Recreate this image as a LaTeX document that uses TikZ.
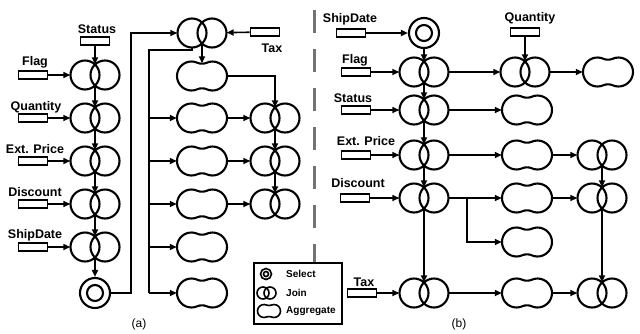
\documentclass[tikz,border=0pt]{standalone}
\usepackage{fontspec}
\setmainfont{Liberation Sans}
\usetikzlibrary{arrows.meta,calc}
\tikzset{
 shp/.style={line width=2.1pt},
 jbox/.style={rectangle, inner sep=0pt, minimum width=49pt, minimum height=21pt},
 abox/.style={rectangle, inner sep=0pt, minimum width=50pt, minimum height=25pt},
 inrect/.style={draw, line width=1.7pt, rectangle, inner sep=0pt, minimum width=29pt, minimum height=8.5pt},
 selnode/.style={draw, circle, line width=2.1pt, inner sep=0pt, minimum size=30pt},
 arr/.style={line width=1.6pt, -{Triangle[length=7pt,width=6pt]}},
 ln/.style={line width=1.6pt},
 lbl/.style={font=\fontsize{12.5}{14}\selectfont\bfseries, inner sep=0pt, anchor=base},
 leg/.style={font=\fontsize{10}{12}\selectfont\bfseries, inner sep=0pt, anchor=west},
 captxt/.style={font=\fontsize{12}{14}\selectfont, inner sep=0pt},
 sepline/.style={line width=3pt, draw=black!55, dash pattern=on 23pt off 16pt},
}
\newcommand\AggShape[5]{%
  \begin{scope}[shift={(#1,#2)},y=1pt]
  \pgfmathsetmacro\aggax{#3+#4*cos(115)}%
  \pgfmathsetmacro\aggay{#4*sin(115)}%
  \pgfmathsetmacro\aggcx{\aggax-0.906*0.18*#4}%
  \pgfmathsetmacro\aggcy{\aggay-0.423*0.18*#4}%
  \draw[line width=#5] (\aggax,-\aggay) arc[start angle=-115,end angle=115,radius=#4]
   .. controls (\aggcx,\aggcy) and (-\aggcx,\aggcy) .. (-\aggax,\aggay)
   arc[start angle=65,end angle=295,radius=#4]
   .. controls (-\aggcx,-\aggcy) and (\aggcx,-\aggcy) .. cycle;
  \end{scope}}
\newcommand\JoinAt[3]{%
  \node[jbox] (#1) at (#2,#3) {};
  \draw[shp] (#2-10,#3) circle[radius=14.5] (#2+10,#3) circle[radius=14.5];}
\newcommand\AggAt[3]{%
  \node[abox] (#1) at (#2,#3) {};
  \AggShape{#2}{#3}{10.5}{14.5}{2.1pt}}
\begin{document}
\begin{tikzpicture}[x=1pt,y=-1pt]
\useasboundingbox (0,0) rectangle (640,333);
% ================= (a) =================
\JoinAt{jA1}{95}{75}
\JoinAt{jA2}{95}{118}
\JoinAt{jA3}{95}{161}
\JoinAt{jA4}{95}{204}
\JoinAt{jA5}{95}{247}
\node[selnode] (selA) at (95,293) {};
\draw[shp] (selA.center) circle[radius=8];
\node[inrect] (rStatusA) at (95,41) {};
\node[lbl] at (97,33) {Status};
\node[inrect] (rFlagA) at (33,75) {};
\node[lbl] at (35,65) {Flag};
\node[inrect] (rQtyA) at (33,118) {};
\node[lbl] at (36,110) {Quantity};
\node[inrect] (rExtA) at (33,161) {};
\node[lbl] at (35,153) {Ext. Price};
\node[inrect] (rDiscA) at (33,204) {};
\node[lbl] at (35,196) {Discount};
\node[inrect] (rShipA) at (33,247) {};
\node[lbl] at (35,238) {ShipDate};
\draw[arr] (rStatusA.south) -- (jA1.north);
\draw[arr] (rFlagA) -- (jA1);
\draw[arr] (rQtyA) -- (jA2);
\draw[arr] (rExtA) -- (jA3);
\draw[arr] (rDiscA) -- (jA4);
\draw[arr] (rShipA) -- (jA5);
\draw[arr] (jA1.south) -- (jA2.north);
\draw[arr] (jA2.south) -- (jA3.north);
\draw[arr] (jA3.south) -- (jA4.north);
\draw[arr] (jA4.south) -- (jA5.north);
\draw[arr] (jA5.south) -- (selA.north);
% right part of (a)
\JoinAt{jT}{202}{33}
\node[inrect] (rTaxA) at (265,32) {};
\node[lbl] at (272,52) {Tax};
\draw[arr] (rTaxA) -- (jT);
\draw[arr] (selA.east) -- ++(20,0) |- (jT.west);
\AggAt{aA1}{202}{76}
\AggAt{aA2}{202}{118}
\AggAt{aA3}{202}{161}
\AggAt{aA4}{202}{204}
\AggAt{aA5}{202}{247}
\AggAt{aA6}{202}{293}
\draw[arr] (jT.south) -- (aA1.north);
\coordinate (busTop) at (149,50);
\draw[ln] ($(jT.center)+(-10,14.5)$) |- (busTop) -- (busTop |- aA6.west);
\foreach \k in {2,...,6} {\draw[arr] (busTop |- aA\k.west) -- (aA\k.west);}
\JoinAt{jB1}{275}{118}
\JoinAt{jB2}{275}{161}
\JoinAt{jB3}{275}{204}
\draw[arr] (aA1.east) -| (jB1.north);
\draw[arr] (aA2) -- (jB1);
\draw[arr] (aA3) -- (jB2);
\draw[arr] (aA4) -- (jB3);
\draw[arr] (jB1.south) -- (jB2.north);
\draw[arr] (jB2.south) -- (jB3.north);
\node[captxt] at (139,324) {(a)};
% ================= separator and legend =================
\node[draw, line width=1.6pt, inner sep=0pt, minimum width=88pt, minimum height=61pt, anchor=north west] (legend) at (253,262) {};
\coordinate (sepTop) at (314,10);
\draw[sepline] (sepTop) -- (sepTop |- legend.north);
\draw[line width=1.6pt] (266,274) circle[radius=5.5];
\draw[line width=1.6pt] (266,274) circle[radius=2.5];
\node[leg] at (286,274) {Select};
\draw[line width=1.6pt] (263,293) circle[radius=6] (270,293) circle[radius=6];
\node[leg] at (286,293) {Join};
\AggShape{269}{311}{5}{6.5}{1.6pt}
\node[leg] at (286,311) {Aggregate};
% ================= (b) =================
\node[selnode] (selB) at (424,33) {};
\draw[shp] (selB.center) circle[radius=8];
\node[inrect] (rShipB) at (351,33) {};
\node[lbl] at (350,22) {ShipDate};
\draw[arr] (rShipB) -- (selB);
\JoinAt{jC1}{424}{72}
\JoinAt{jC2}{424}{110}
\JoinAt{jC3}{424}{155}
\JoinAt{jC4}{424}{198}
\JoinAt{jC5}{424}{293}
\node[inrect] (rFlagB) at (356,72) {};
\node[lbl] at (355,63) {Flag};
\node[inrect] (rStatusB) at (356,110) {};
\node[lbl] at (353,102) {Status};
\node[inrect] (rExtB) at (356,155) {};
\node[lbl] at (366,145) {Ext. Price};
\node[inrect] (rDiscB) at (355,198) {};
\node[lbl] at (358,187) {Discount};
\node[inrect] (rTaxB) at (362,293) {};
\node[lbl] at (364,286) {Tax};
\draw[arr] (rFlagB) -- (jC1);
\draw[arr] (rStatusB) -- (jC2);
\draw[arr] (rExtB) -- (jC3);
\draw[arr] (rDiscB) -- (jC4);
\draw[arr] (rTaxB) -- (jC5);
\draw[arr] (selB.south) -- (jC1.north);
\draw[arr] (jC1.south) -- (jC2.north);
\draw[arr] (jC2.south) -- (jC3.north);
\draw[arr] (jC3.south) -- (jC4.north);
\draw[arr] (jC4.south) -- (jC5.north);
% row Flag
\JoinAt{jD1}{525}{72}
\node[inrect] (rQtyB) at (525,32) {};
\node[lbl] at (530,21) {Quantity};
\draw[arr] (rQtyB.south) -- (jD1.north);
\AggAt{aE1}{608}{72}
\draw[arr] (jC1) -- (jD1);
\draw[arr] (jD1) -- (aE1);
% row Status
\AggAt{aD2}{527}{110}
\draw[arr] (jC2) -- (aD2);
% row Ext. Price
\AggAt{aD3}{527}{155}
\JoinAt{jE3}{602}{155}
\draw[arr] (jC3) -- (aD3);
\draw[arr] (aD3) -- (jE3);
% row Discount
\AggAt{aD4}{527}{198}
\JoinAt{jE4}{602}{198}
\AggAt{aD5}{527}{242}
\coordinate (brB) at (467,198);
\draw[arr] (jC4) -- (aD4);
\draw[arr] (brB) |- (aD5.west);
\draw[arr] (aD4) -- (jE4);
% row Tax
\AggAt{aD6}{527}{293}
\JoinAt{jE6}{602}{293}
\draw[arr] (jC5) -- (aD6);
\draw[arr] (aD6) -- (jE6);
\draw[arr] (jE3.south) -- (jE4.north);
\draw[arr] (jE4.south) -- (jE6.north);
\node[captxt] at (459,324) {(b)};
\end{tikzpicture}
\end{document}
